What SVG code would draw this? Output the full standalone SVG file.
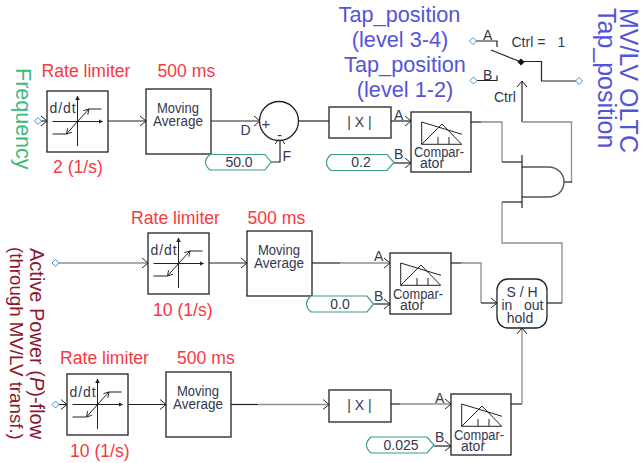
<svg xmlns="http://www.w3.org/2000/svg" width="642" height="463" viewBox="0 0 642 463">
<style>
text{font-family:"Liberation Sans",Arial,sans-serif}
.box{fill:#fff;stroke:#222;stroke-width:1.3}
.k{fill:none;stroke:#222;stroke-width:1.2}
.w{fill:none;stroke:#222;stroke-width:1.2;marker-end:url(#ah)}
.g{fill:none;stroke:#8f8f8f;stroke-width:1.3}
.ga{fill:none;stroke:#8f8f8f;stroke-width:1.3;marker-end:url(#ah)}
.t{fill:#33384f;font-size:14px}
.m{text-anchor:middle}
.red{fill:#f8383f;font-size:17.6px}
.blue{fill:#5454d8;font-size:21.7px;text-anchor:middle}
.bigblue{fill:#5454d8;font-size:25px}
.cv{fill:#fff;stroke:#3a9e8c;stroke-width:1.2}
.src{fill:#fff;stroke:#4a90d0;stroke-width:1}
.thin{fill:none;stroke:#222;stroke-width:1}
</style>
<defs>
<marker id="ah" markerUnits="userSpaceOnUse" markerWidth="10" markerHeight="12" refX="8" refY="6" orient="auto"><path d="M2,1 L8,6 L2,11" fill="none" stroke="#222" stroke-width="1"/></marker>
<marker id="sm" markerUnits="userSpaceOnUse" markerWidth="6" markerHeight="6" refX="4" refY="3" orient="auto"><path d="M0,1 L4,3 L0,5Z" fill="#222" stroke="#222" stroke-width=".5"/></marker>
<marker id="op" markerUnits="userSpaceOnUse" markerWidth="8" markerHeight="8" refX="6" refY="4" orient="auto"><path d="M1,1 L6,4 L1,7" fill="none" stroke="#222" stroke-width=".9"/></marker>
<g id="lim">
<path d="M5.500,30.500 H55.500" class="thin" marker-end="url(#sm)"/>
<path d="M30.500,55 V5" class="thin" marker-end="url(#sm)"/>
<path d="M5.500,43 H19.500" class="thin"/>
<path d="M42,18 H54.500" class="thin"/>
<path d="M30.500,30.500 L19.500,43" class="thin" marker-end="url(#op)"/>
<path d="M30.500,30.500 L42,18" class="thin" marker-end="url(#op)"/>
</g>
<g id="cmp">
<path d="M10.700,10 V32.300 H50.700 L31,12 L10.700,32.300" class="thin"/>
<path d="M10.700,10 L51,22.300" class="thin"/>
<path d="M27,25 V32 M38,25 V32" class="thin"/>
</g>
<path id="dm" d="M-3.500,0 L0,-3.500 L3.500,0 L0,3.500Z" class="src"/>
</defs>

<g id="connectors">
<path class="w" d="M38,121 H47"/>
<path class="w" d="M108,121 H146"/>
<path class="w" d="M211,121 H260"/>
<path class="k" d="M298,121 H329"/>
<path class="w" d="M271,162 H280 V138"/>
<path class="w" d="M391,121 H411"/>
<path class="w" d="M394,163 H411"/>
<path class="k" d="M471,122 H481"/>
<path class="g" d="M481,122 H502 V162"/>
<path class="k" d="M502,162 H522"/>
<path class="w" d="M522,122 V81"/>
<path class="g" d="M522,122 H571.500 V182"/>
<path class="k" d="M563,182 H572"/>
<path class="k" d="M522,202 H502"/>
<path class="g" d="M502,202 V243 H562 V303"/>
<path class="k" d="M547,303 H562"/>
<path class="ga" d="M58,263 H148"/>
<path class="w" d="M209,263 H247"/>
<path class="k" d="M312,263 H340"/>
<path class="ga" d="M340,263 H390"/>
<path class="w" d="M374,304 H390"/>
<path class="k" d="M451,263 H461"/>
<path class="g" d="M461,263 H481 V303"/>
<path class="w" d="M481,303 H497"/>
<path class="w" d="M58,404.500 H67"/>
<path class="w" d="M128,404.500 H166"/>
<path class="k" d="M231,404.500 H258"/>
<path class="ga" d="M258,404.500 H329"/>
<path class="k" d="M391,404 H400"/>
<path class="ga" d="M400,404 H451"/>
<path class="w" d="M434,446 H451"/>
<path class="k" d="M511,404 H522"/>
<path class="ga" d="M522,404 V328"/>
<path class="k" d="M476,41 H497 V47"/>
<path class="k" d="M476.500,80.500 H497 V75.500"/>
<path class="k" d="M491,50 L521,62"/>
<path class="k" d="M521,61.500 H541.500 V81 H576"/>
</g>

<g id="frequency-label"><text transform="translate(15.500,68) rotate(90)" style="fill:#3cb878;font-size:21.5px">Frequency</text></g>
<g id="active-power-label">
<text transform="translate(30,248) rotate(90)" style="fill:#8c1830;font-size:20px">Active Power (<tspan font-style="italic">P</tspan>)-flow</text>
<text transform="translate(9.500,247) rotate(90)" style="fill:#8c1830;font-size:18.700px">(through MV/LV transf.)</text>
</g>
<g id="oltc-label">
<text class="bigblue" transform="translate(619.500,8) rotate(90)">MV/LV OLTC</text>
<text class="bigblue" transform="translate(598,8) rotate(90)">Tap_position</text>
</g>
<g id="tap-labels">
<text class="blue" x="399.500" y="22">Tap_position</text>
<text class="blue" x="400" y="47">(level 3-4)</text>
<text class="blue" x="405" y="72">Tap_position</text>
<text class="blue" x="405" y="97">(level 1-2)</text>
</g>

<g id="src-freq"><use href="#dm" x="38" y="121"/></g>
<g id="src-p1"><use href="#dm" x="55.500" y="263"/></g>
<g id="src-p2"><use href="#dm" x="55.500" y="404.500"/></g>
<g id="src-a"><use href="#dm" x="473" y="41"/></g>
<g id="src-b"><use href="#dm" x="473.500" y="80.500"/></g>
<g id="out-tap"><use href="#dm" x="579" y="81"/></g>

<g id="rate1">
<text class="red" x="41.500" y="77">Rate limiter</text>
<rect class="box" x="47" y="91" width="61" height="61"/>
<use href="#lim" x="47" y="91"/>
<text class="t" x="49.500" y="113" style="letter-spacing:.9px">d/dt</text>
<text class="red" x="53" y="173">2 (1/s)</text>
</g>
<g id="avg1">
<text class="red" x="157.500" y="77">500 ms</text>
<rect class="box" x="146" y="89" width="65" height="65"/>
<text class="t" x="157" y="113" textLength="42" lengthAdjust="spacingAndGlyphs">Moving</text>
<text class="t" x="153" y="126" textLength="50" lengthAdjust="spacingAndGlyphs">Average</text>
</g>
<g id="sum">
<circle class="box" cx="279" cy="121" r="19.500"/>
<text class="t" x="261.500" y="129" style="font-size:15px">+</text>
<text class="t" x="277" y="140" style="font-size:15px">-</text>
<text class="t" x="240.500" y="135">D</text>
<text class="t" x="282.500" y="161">F</text>
</g>
<g id="const50">
<path class="cv" d="M210,154.500 H265 L271,162 L265,170 H210 Q201,162 210,154.500Z"/>
<text class="t m" x="239" y="167">50.0</text>
</g>
<g id="abs1">
<rect class="box" x="329" y="107" width="62" height="31"/>
<text class="t m" x="359.500" y="126.500">| X |</text>
</g>
<g id="const02">
<path class="cv" d="M331,154.500 H387 L394,162.500 L387,170.500 H331 Q322,162.500 331,154.500Z"/>
<text class="t m" x="361" y="167">0.2</text>
</g>
<g id="cmp1">
<rect class="box" x="411" y="112" width="60" height="60"/>
<use href="#cmp" x="411" y="112"/>
<text class="t" x="394" y="120">A</text>
<text class="t" x="394" y="159">B</text>
<text class="t" x="414" y="157" textLength="50" lengthAdjust="spacingAndGlyphs">Compar-</text>
<text class="t m" x="432" y="168">ator</text>
</g>
<g id="switch">
<text class="t" x="483" y="40">A</text>
<text class="t" x="483" y="80">B</text>
<text class="t" x="511.500" y="47">Ctrl =</text>
<text class="t" x="557.500" y="47">1</text>
<text class="t" x="494" y="102">Ctrl</text>
<path d="M517.500,62 L521,58.500 L524.500,62 L521,65.500Z" fill="#111"/>
</g>
<g id="and">
<path d="M522,167 H548 C558,167 564,174 564,182 C564,190 558,197 548,197 H522" fill="#fff" stroke="#555" stroke-width="1.400"/>
<path class="k" d="M522,155 V208"/>
</g>

<g id="rate2">
<text class="red" x="131" y="224">Rate limiter</text>
<rect class="box" x="148" y="233" width="61" height="61"/>
<use href="#lim" x="148" y="233"/>
<text class="t" x="150.500" y="255" style="letter-spacing:.9px">d/dt</text>
<text class="red" x="153" y="316">10 (1/s)</text>
</g>
<g id="avg2">
<text class="red" x="247.500" y="224">500 ms</text>
<rect class="box" x="247" y="231" width="65" height="65"/>
<text class="t" x="258" y="255" textLength="42" lengthAdjust="spacingAndGlyphs">Moving</text>
<text class="t" x="254" y="268" textLength="50" lengthAdjust="spacingAndGlyphs">Average</text>
</g>
<g id="const00">
<path class="cv" d="M311,296 H367 L373.500,304 L367,312 H311 Q302,304 311,296Z"/>
<text class="t m" x="340" y="308.500">0.0</text>
</g>
<g id="cmp2">
<rect class="box" x="390" y="253" width="61" height="61"/>
<use href="#cmp" x="390" y="253"/>
<text class="t" x="374" y="261">A</text>
<text class="t" x="374" y="301">B</text>
<text class="t" x="393" y="299" textLength="50" lengthAdjust="spacingAndGlyphs">Compar-</text>
<text class="t m" x="412" y="310">ator</text>
</g>
<g id="sh">
<rect class="box" x="497" y="279" width="50" height="49" rx="11"/>
<text class="t m" x="522" y="297">S / H</text>
<text class="t" x="501.500" y="310">in</text>
<text class="t" x="524" y="310">out</text>
<text class="t m" x="520" y="323">hold</text>
</g>

<g id="rate3">
<text class="red" x="60" y="364">Rate limiter</text>
<rect class="box" x="67" y="374" width="61" height="61"/>
<use href="#lim" x="67" y="374"/>
<text class="t" x="69.500" y="397" style="letter-spacing:.9px">d/dt</text>
<text class="red" x="70" y="457">10 (1/s)</text>
</g>
<g id="avg3">
<text class="red" x="177" y="364">500 ms</text>
<rect class="box" x="166" y="372" width="65" height="65"/>
<text class="t" x="177" y="396" textLength="42" lengthAdjust="spacingAndGlyphs">Moving</text>
<text class="t" x="173" y="409" textLength="50" lengthAdjust="spacingAndGlyphs">Average</text>
</g>
<g id="abs2">
<rect class="box" x="329" y="390" width="62" height="32"/>
<text class="t m" x="359.500" y="409.500">| X |</text>
</g>
<g id="const0025">
<path class="cv" d="M371,437 H427 L434,445 L427,453 H371 Q362,445 371,437Z"/>
<text class="t m" x="401" y="450">0.025</text>
</g>
<g id="cmp3">
<rect class="box" x="451" y="394" width="60" height="61"/>
<use href="#cmp" x="451" y="394"/>
<text class="t" x="435" y="403">A</text>
<text class="t" x="435" y="442">B</text>
<text class="t" x="454" y="440" textLength="50" lengthAdjust="spacingAndGlyphs">Compar-</text>
<text class="t m" x="473" y="451">ator</text>
</g>
</svg>
